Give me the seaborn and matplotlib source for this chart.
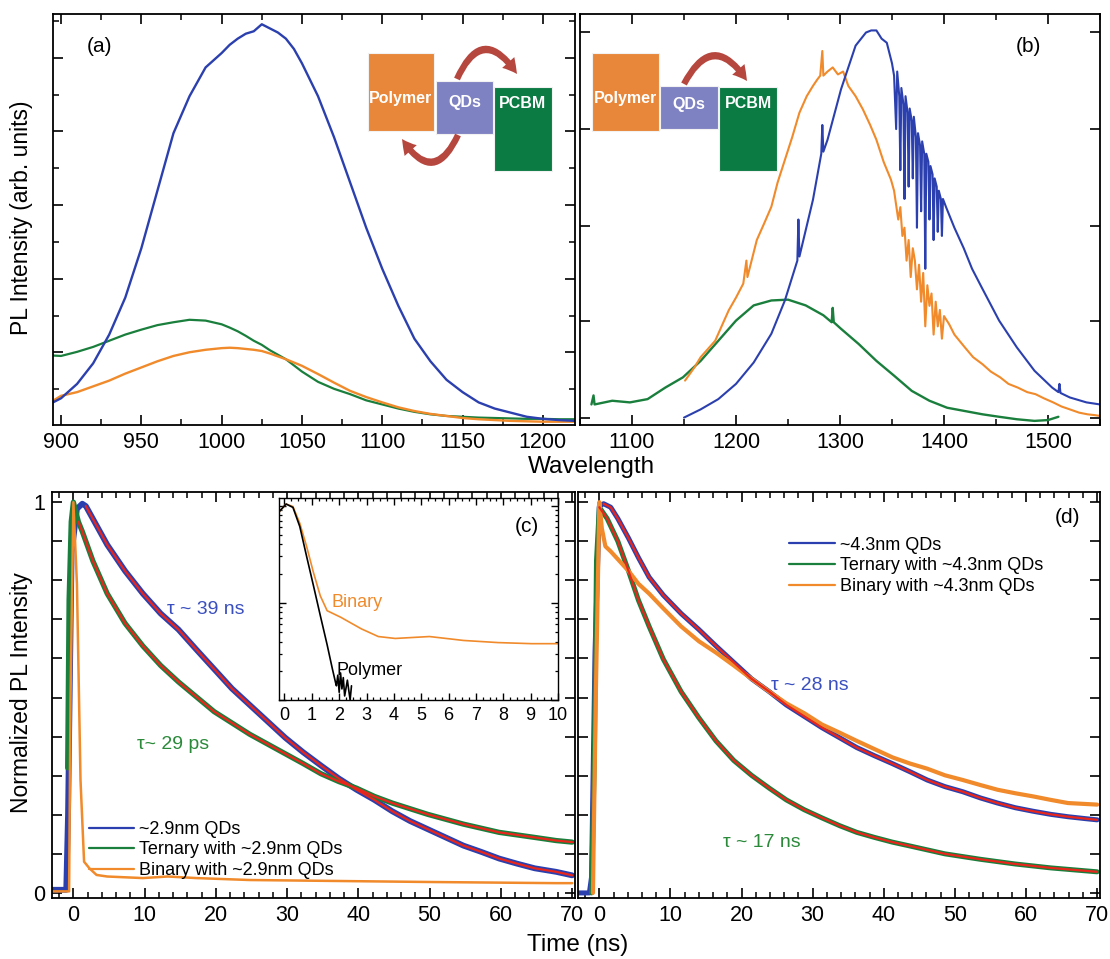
import matplotlib
matplotlib.use("Agg")
import matplotlib.pyplot as plt
import seaborn as sns
from matplotlib.patches import Rectangle, FancyArrowPatch
from matplotlib.lines import Line2D
from matplotlib.ticker import FixedLocator, MultipleLocator, NullFormatter, FixedFormatter, LogLocator

# ---------------- data ----------------
# Panel (a): PL spectra, ~2.9 nm QDs
a_nm = [895, 900, 910, 920, 930, 940, 950, 960, 970, 980, 990, 1000, 1005, 1010, 1015, 1020, 1025, 1030,
        1035, 1040, 1045, 1050, 1060, 1070, 1080, 1090, 1100, 1110, 1120, 1130, 1140, 1150, 1160, 1170,
        1180, 1190, 1200, 1210, 1220]
a_blue = [0.055, 0.065, 0.10, 0.15, 0.22, 0.31, 0.43, 0.57, 0.71, 0.80, 0.87, 0.905, 0.925, 0.94, 0.952, 0.958, 0.975, 0.965,
          0.955, 0.94, 0.915, 0.88, 0.80, 0.70, 0.59, 0.48, 0.38, 0.29, 0.21, 0.155, 0.11, 0.08, 0.055, 0.04,
          0.03, 0.02, 0.015, 0.012, 0.01]
a_green = [0.169, 0.168, 0.178, 0.19, 0.205, 0.22, 0.232, 0.243, 0.25, 0.256, 0.254, 0.245, 0.237, 0.228, 0.217, 0.205, 0.195, 0.182,
           0.171, 0.16, 0.145, 0.13, 0.105, 0.088, 0.075, 0.06, 0.05, 0.04, 0.032, 0.026, 0.022, 0.02, 0.018, 0.017,
           0.016, 0.015, 0.015, 0.014, 0.014]
a_orange = [0.059, 0.071, 0.08, 0.094, 0.108, 0.125, 0.14, 0.155, 0.168, 0.177, 0.183, 0.187, 0.188, 0.187, 0.185, 0.183, 0.18, 0.174,
            0.167, 0.16, 0.152, 0.144, 0.124, 0.103, 0.083, 0.068, 0.055, 0.043, 0.034, 0.027, 0.022, 0.017, 0.014, 0.012,
            0.01, 0.009, 0.008, 0.008, 0.008]

# Panel (b): PL spectra, ~4.3 nm QDs
b_blue_nm = [1150, 1166, 1183, 1200, 1217, 1234, 1247, 1259, 1260, 1261, 1274, 1282, 1283, 1284, 1288,
             1301, 1315, 1325, 1330, 1335, 1340, 1345, 1350, 1352, 1354, 1355, 1357, 1358, 1359, 1361,
             1362, 1363, 1365, 1366, 1367, 1369, 1370, 1371, 1373, 1374, 1375, 1377, 1378, 1379, 1381,
             1382, 1383, 1385, 1386, 1387, 1389, 1390, 1391, 1393, 1394, 1395, 1397, 1398, 1399, 1402,
             1410, 1419, 1427, 1436, 1453, 1470, 1487, 1504, 1510, 1511, 1512, 1521, 1537, 1550]
b_blue = [0.018, 0.038, 0.063, 0.10, 0.152, 0.222, 0.303, 0.40, 0.50, 0.41, 0.548, 0.66, 0.73, 0.665, 0.694,
          0.817, 0.923, 0.955, 0.96, 0.96, 0.94, 0.93, 0.88, 0.85, 0.72, 0.86, 0.80, 0.62, 0.82, 0.78,
          0.55, 0.80, 0.76, 0.58, 0.77, 0.74, 0.60, 0.75, 0.70, 0.48, 0.71, 0.68, 0.52, 0.69, 0.66,
          0.38, 0.66, 0.64, 0.50, 0.63, 0.61, 0.45, 0.60, 0.58, 0.47, 0.57, 0.55, 0.46, 0.55, 0.53,
          0.48, 0.43, 0.38, 0.336, 0.254, 0.189, 0.132, 0.091, 0.08, 0.10, 0.078, 0.067, 0.055, 0.05]
b_orange_nm = [1151, 1160, 1166, 1173, 1180, 1187, 1193, 1200, 1207, 1210, 1211, 1220, 1227, 1234, 1240,
               1247, 1254, 1261, 1268, 1274, 1278, 1281, 1283, 1284, 1288, 1293, 1298, 1303, 1308, 1315,
               1322, 1329, 1335, 1342, 1349, 1352, 1356, 1358, 1360, 1362, 1364, 1366, 1368, 1370, 1372,
               1374, 1376, 1378, 1380, 1382, 1384, 1386, 1388, 1390, 1392, 1394, 1396, 1398, 1400, 1405,
               1410, 1420, 1428, 1437, 1445, 1454, 1462, 1471, 1480, 1488, 1496, 1505, 1513, 1521, 1530,
               1538, 1545, 1550]
b_orange = [0.108, 0.14, 0.165, 0.185, 0.205, 0.245, 0.279, 0.31, 0.344, 0.40, 0.36, 0.45, 0.49, 0.531, 0.59,
            0.645, 0.70, 0.76, 0.80, 0.825, 0.84, 0.85, 0.91, 0.85, 0.86, 0.87, 0.853, 0.86, 0.825, 0.80,
            0.768, 0.73, 0.694, 0.64, 0.597, 0.57, 0.50, 0.53, 0.46, 0.48, 0.40, 0.45, 0.36, 0.43, 0.40,
            0.33, 0.39, 0.30, 0.37, 0.24, 0.34, 0.29, 0.32, 0.22, 0.30, 0.24, 0.28, 0.21, 0.265, 0.245,
            0.22, 0.189, 0.165, 0.148, 0.13, 0.116, 0.10, 0.091, 0.08, 0.075, 0.065, 0.055, 0.045, 0.038, 0.03,
            0.026, 0.024, 0.022]
b_green_nm = [1061, 1063, 1064, 1081, 1098, 1115, 1132, 1149, 1166, 1183, 1200, 1217, 1234, 1250, 1267,
              1284, 1292, 1293, 1294, 1301, 1318, 1335, 1352, 1369, 1386, 1403, 1420, 1437, 1453, 1470,
              1487, 1500, 1510]
b_green = [0.05, 0.072, 0.05, 0.059, 0.055, 0.063, 0.091, 0.116, 0.156, 0.205, 0.254, 0.291, 0.303, 0.305, 0.291,
           0.267, 0.25, 0.285, 0.25, 0.234, 0.197, 0.156, 0.12, 0.083, 0.059, 0.042, 0.034, 0.026, 0.02, 0.014,
           0.01, 0.012, 0.02]

# Panel (c): time-resolved PL, ~2.9 nm QDs
c_t_blue = [-3, -1.0, -0.75, -0.25, 0.5, 1.25, 1.75, 4.75, 7.25, 9.75, 12.25, 14.75, 17.25, 19.75, 22.25,
            24.75, 27.25, 29.75, 32.25, 34.75, 37.25, 39.75, 42.25, 44.75, 47.25, 49.75, 52.25, 54.75,
            57.25, 59.75, 62.25, 64.75, 67.75, 70]
c_blue = [0.008, 0.008, 0.2, 0.87, 0.983, 0.996, 0.99, 0.891, 0.824, 0.766, 0.715, 0.674, 0.623, 0.573, 0.523,
          0.481, 0.439, 0.397, 0.36, 0.326, 0.293, 0.264, 0.238, 0.209, 0.184, 0.163, 0.142, 0.121,
          0.105, 0.088, 0.075, 0.063, 0.054, 0.045]
c_t_green = [-0.8, -0.6, -0.3, 0.0, 0.7, 1.25, 2.75, 4.75, 7.25, 9.75, 12.25, 14.75, 17.25, 19.75, 22.25, 24.75,
             27.25, 29.75, 32.25, 34.75, 37.25, 39.75, 42.25, 44.75, 49.75, 54.75, 59.75, 64.75, 67.75, 70]
c_green = [0.32, 0.75, 0.95, 1.0, 0.95, 0.925, 0.849, 0.766, 0.69, 0.632, 0.582, 0.54, 0.502, 0.464, 0.435, 0.406,
           0.381, 0.356, 0.331, 0.305, 0.285, 0.268, 0.247, 0.23, 0.201, 0.176, 0.155, 0.142, 0.134, 0.13]
c_t_orange = [-3, -0.6, -0.4, 0.0, 0.5, 1.0, 1.5, 2.25, 3.25, 4.75, 9.75, 13.25, 17.25, 24.75, 34.75, 49.75, 67.75, 70]
c_orange = [0.004, 0.004, 0.5, 1.0, 0.79, 0.289, 0.08, 0.063, 0.046, 0.042, 0.038, 0.042, 0.038, 0.033, 0.031, 0.028, 0.025, 0.025]

# Inset of (c): log scale, first 10 ns
ins_t_binary = [-0.19, 0.06, 0.31, 0.56, 0.81, 1.06, 1.31, 1.56, 2.06, 2.81, 3.43, 4.05, 5.3, 6.55, 7.8, 9.04, 10.0]
ins_binary = [0.87, 1.04, 0.98, 0.66, 0.38, 0.205, 0.118, 0.083, 0.071, 0.054, 0.045, 0.043, 0.045, 0.041, 0.039, 0.038, 0.038]
ins_t_polymer = [-0.19, 0.06, 0.31, 0.56, 0.81, 1.06, 1.31, 1.56, 1.75, 1.87, 1.9, 1.95, 2.0, 2.05, 2.1, 2.15, 2.2, 2.3, 2.4, 2.45]
ins_polymer = [0.87, 1.04, 0.96, 0.61, 0.30, 0.15, 0.074, 0.037, 0.021, 0.015, 0.014, 0.018, 0.012, 0.019, 0.013, 0.017, 0.011, 0.016, 0.01, 0.014]

# Panel (d): time-resolved PL, ~4.3 nm QDs
d_t_blue = [-3, -1.4, -1.1, -0.6, 0.0, 0.6, 1.6, 2.6, 4.1, 5.5, 7.0, 9.0, 11.5, 14.0, 16.4, 18.9, 21.4, 23.9,
            26.3, 28.8, 31.3, 33.8, 36.2, 38.7, 41.2, 43.7, 46.1, 48.6, 51.1, 53.6, 56.0, 58.5, 61.0, 63.5,
            65.9, 68.4, 70]
d_blue = [0.0, 0.0, 0.04, 0.62, 0.99, 0.996, 0.987, 0.958, 0.908, 0.858, 0.808, 0.762, 0.715, 0.674, 0.632, 0.59,
          0.548, 0.515, 0.481, 0.452, 0.423, 0.397, 0.372, 0.351, 0.331, 0.31, 0.289, 0.272, 0.259, 0.243,
          0.23, 0.218, 0.209, 0.201, 0.195, 0.19, 0.187]
d_t_green = [-1.1, -0.7, -0.4, 0.0, 1.1, 2.6, 4.1, 5.5, 7.0, 9.0, 11.5, 14.0, 16.4, 18.9, 21.4, 23.9, 26.3, 28.8,
             31.3, 33.8, 36.2, 38.7, 41.2, 43.7, 48.6, 53.6, 58.5, 63.5, 70]
d_green = [0.0, 0.35, 0.85, 0.987, 0.958, 0.90, 0.824, 0.749, 0.682, 0.598, 0.515, 0.448, 0.389, 0.339, 0.301,
           0.268, 0.238, 0.213, 0.192, 0.172, 0.155, 0.142, 0.13, 0.12, 0.10, 0.086, 0.074, 0.064, 0.054]
d_t_orange = [-0.9, -0.5, 0.0, 0.35, 0.85, 1.6, 2.6, 4.1, 5.5, 7.0, 9.0, 11.5, 14.0, 16.4, 18.9, 21.4, 23.9, 26.3,
              28.8, 31.3, 33.8, 36.2, 38.7, 41.2, 43.7, 46.1, 48.6, 51.1, 53.6, 56.0, 58.5, 61.0, 63.5, 65.9, 70]
d_orange = [0.0, 0.5, 1.0, 0.933, 0.887, 0.874, 0.854, 0.824, 0.791, 0.766, 0.728, 0.682, 0.644, 0.615, 0.582,
            0.548, 0.515, 0.485, 0.46, 0.431, 0.41, 0.389, 0.368, 0.347, 0.331, 0.318, 0.301, 0.289, 0.276,
            0.264, 0.255, 0.247, 0.238, 0.23, 0.226]

legend_c = ["~2.9nm QDs", "Ternary with ~2.9nm QDs", "Binary with ~2.9nm QDs"]
legend_d = ["~4.3nm QDs", "Ternary with ~4.3nm QDs", "Binary with ~4.3nm QDs"]

# ---------------- style ----------------
BLUE = "#2B40AE"
GREEN = "#1A7F3C"
ORANGE = "#F08A2B"
RED = "#E8261C"
ARROW = "#B5473F"

sns.set_theme(style="ticks", rc={
    "axes.edgecolor": "black", "axes.linewidth": 1.3,
    "xtick.color": "black", "ytick.color": "black",
    "text.color": "black", "axes.labelcolor": "black",
    "xtick.direction": "in", "ytick.direction": "in",
    "xtick.top": True, "ytick.right": True,
    "xtick.major.size": 7, "ytick.major.size": 7,
    "xtick.minor.size": 4, "ytick.minor.size": 4,
    "xtick.major.width": 1.2, "ytick.major.width": 1.2,
    "xtick.minor.width": 1.1, "ytick.minor.width": 1.1,
})
plt.rcParams["font.family"] = ["Liberation Sans", "DejaVu Sans"]

W, H = 1110, 959
fig = plt.figure(figsize=(W / 100, H / 100), dpi=100)


def px_axes(l, t, r, b):
    return fig.add_axes([l / W, 1 - b / H, (r - l) / W, (b - t) / H])


def draw(ax, x, y, color, lw):
    sns.lineplot(x=x, y=y, ax=ax, color=color, linewidth=lw, sort=False,
                 estimator=None, legend=False)


ax_a = px_axes(53, 14, 575, 425)
ax_b = px_axes(580, 14, 1100, 425)
ax_c = px_axes(52, 492, 575, 898)
ax_d = px_axes(578, 492, 1100, 898)

# ---- (a) ----
draw(ax_a, a_nm, a_green, GREEN, 1.6)
draw(ax_a, a_nm, a_orange, ORANGE, 1.7)
draw(ax_a, a_nm, a_blue, BLUE, 1.7)
ax_a.set_xlim(895, 1220)
ax_a.set_ylim(0, 1)
ax_a.xaxis.set_major_locator(MultipleLocator(50))
ax_a.xaxis.set_minor_locator(MultipleLocator(25))
ax_a.yaxis.set_major_locator(FixedLocator([0.177, 0.356, 0.535, 0.715, 0.892]))
ax_a.yaxis.set_minor_locator(FixedLocator([0.087, 0.266, 0.446, 0.625, 0.803, 0.984]))
ax_a.yaxis.set_major_formatter(NullFormatter())
ax_a.text(0.09, 0.922, "(a)", transform=ax_a.transAxes, fontsize=15, ha="center", va="center")

# ---- (b) ----
draw(ax_b, b_green_nm, b_green, GREEN, 1.7)
draw(ax_b, b_orange_nm, b_orange, ORANGE, 1.5)
draw(ax_b, b_blue_nm, b_blue, BLUE, 1.5)
ax_b.set_xlim(1050, 1550)
ax_b.set_ylim(0, 1)
ax_b.xaxis.set_major_locator(MultipleLocator(100))
ax_b.xaxis.set_minor_locator(MultipleLocator(50))
ax_b.yaxis.set_major_locator(FixedLocator([0.018, 0.252, 0.485, 0.719, 0.955]))
ax_b.yaxis.set_major_formatter(NullFormatter())
ax_b.text(0.862, 0.922, "(b)", transform=ax_b.transAxes, fontsize=15, ha="center", va="center")

for ax in (ax_a, ax_b):
    ax.set_xlabel("")
    ax.set_ylabel("")
    ax.tick_params(axis="x", which="major", labelsize=15.5, pad=5)

# ---- (c) ----
draw(ax_c, c_t_blue, c_blue, BLUE, 4.2)
draw(ax_c, c_t_green, c_green, GREEN, 3.8)
draw(ax_c, c_t_blue[6:], c_blue[6:], RED, 1.6)
draw(ax_c, c_t_green[4:], c_green[4:], RED, 1.6)
draw(ax_c, c_t_orange, c_orange, ORANGE, 1.8)

# ---- (d) ----
draw(ax_d, d_t_blue, d_blue, BLUE, 3.6)
draw(ax_d, d_t_green, d_green, GREEN, 3.6)
draw(ax_d, d_t_orange, d_orange, ORANGE, 3.0)
draw(ax_d, d_t_blue[5:], d_blue[5:], RED, 1.6)
draw(ax_d, d_t_green[3:], d_green[3:], RED, 1.6)

yt = [i / 10 for i in range(11)]
ylab = ["0"] + [""] * 9 + ["1"]
for ax in (ax_c, ax_d):
    ax.set_xlim(-3, 70.4)
    ax.set_ylim(-0.013, 1.026)
    ax.xaxis.set_major_locator(MultipleLocator(10))
    ax.xaxis.set_minor_locator(MultipleLocator(2))
    ax.yaxis.set_major_locator(FixedLocator(yt))
    ax.set_xlabel("")
    ax.set_ylabel("")
    ax.tick_params(axis="both", which="major", labelsize=15.5, pad=5)
ax_c.yaxis.set_major_formatter(FixedFormatter(ylab))
ax_d.yaxis.set_major_formatter(NullFormatter())

handles = [Line2D([], [], color=BLUE, lw=1.6), Line2D([], [], color=GREEN, lw=1.6),
           Line2D([], [], color=ORANGE, lw=1.6)]
ax_c.legend(handles, legend_c, loc="upper left", bbox_to_anchor=(0.07, 0.19), frameon=False,
            fontsize=13, handlelength=2.5, handletextpad=0.3, labelspacing=0.2,
            borderaxespad=0, borderpad=0)
ax_d.legend(handles, legend_d, loc="upper left", bbox_to_anchor=(0.405, 0.89), frameon=False,
            fontsize=13, handlelength=2.5, handletextpad=0.3, labelspacing=0.2,
            borderaxespad=0, borderpad=0)

ax_c.text(18.6, 0.726, "τ ~ 39 ns", color="#3A4FBF", fontsize=14, ha="center", va="center")
ax_c.text(14.0, 0.381, "τ~ 29 ps", color="#2A8A3A", fontsize=14, ha="center", va="center")
ax_d.text(29.6, 0.532, "τ ~ 28 ns", color="#3A4FBF", fontsize=14, ha="center", va="center")
ax_d.text(22.8, 0.130, "τ ~ 17 ns", color="#2A8A3A", fontsize=14, ha="center", va="center")
ax_d.text(0.937, 0.938, "(d)", transform=ax_d.transAxes, fontsize=15, ha="center", va="center")

# ---- inset of (c) ----
ax_i = px_axes(279, 498, 558, 700)
draw(ax_i, ins_t_binary, ins_binary, ORANGE, 1.2)
draw(ax_i, ins_t_polymer, ins_polymer, "black", 1.2)
ax_i.set_yscale("log")
ax_i.set_xlim(-0.2, 10.0)
ax_i.set_ylim(0.01, 1.2)
ax_i.xaxis.set_major_locator(MultipleLocator(1))
ax_i.xaxis.set_minor_locator(MultipleLocator(0.25))
ax_i.yaxis.set_major_locator(LogLocator(base=10))
ax_i.yaxis.set_minor_locator(LogLocator(base=10, subs=range(2, 10)))
ax_i.yaxis.set_major_formatter(NullFormatter())
ax_i.yaxis.set_minor_formatter(NullFormatter())
ax_i.set_xlabel("")
ax_i.set_ylabel("")
ax_i.tick_params(axis="both", which="major", length=5, width=1.0, labelsize=13, pad=5)
ax_i.tick_params(axis="both", which="minor", length=2.5, width=0.9)
for s in ax_i.spines.values():
    s.set_linewidth(1.0)
ax_i.text(1.72, 0.10, "Binary", color=ORANGE, fontsize=13, ha="left", va="center")
ax_i.text(1.9, 0.02, "Polymer", color="black", fontsize=13, ha="left", va="center")
ax_i.text(0.89, 0.86, "(c)", transform=ax_i.transAxes, fontsize=15, ha="center", va="center")

# ---- shared labels ----
fig.text(591 / W, 1 - 467 / H, "Wavelength", fontsize=17.5, ha="center", va="center")
fig.text(578 / W, 1 - 945 / H, "Time (ns)", fontsize=17.5, ha="center", va="center")
fig.text(22 / W, 1 - 218 / H, "PL Intensity (arb. units)", fontsize=16.5, rotation=90,
         ha="center", va="center")
fig.text(22 / W, 1 - 693 / H, "Normalized PL Intensity", fontsize=16.5, rotation=90,
         ha="center", va="center")

# ---- energy-transfer schematics (decoration, pixel coordinates) ----
ov = fig.add_axes([0, 0, 1, 1], zorder=10)
ov.set_xlim(0, W)
ov.set_ylim(H, 0)
ov.axis("off")
ov.patch.set_alpha(0)


def box(x0, y0, w, h, fc, label, ty):
    ov.add_patch(Rectangle((x0, y0), w, h, facecolor=fc, edgecolor="#F2F2F2", lw=0.8))
    ov.text(x0 + w / 2, ty, label, color="white", fontsize=11.5, fontweight="bold",
            ha="center", va="center")


def arrow(p0, p1, rad):
    ov.add_patch(FancyArrowPatch(p0, p1, connectionstyle=f"arc3,rad={rad}",
                                 arrowstyle="simple,head_length=0.8,head_width=0.9,tail_width=0.35",
                                 mutation_scale=13, color=ARROW, shrinkA=0, shrinkB=0, lw=0))


box(368, 53, 66, 78, "#E8873A", "Polymer", 98)
box(436, 81, 57, 53, "#7F82C2", "QDs", 103)
box(494, 87, 58, 84, "#0B7A43", "PCBM", 103)
arrow((457, 79), (517, 74), -0.9)
arrow((458, 135), (402, 139), -0.9)

box(592, 53, 67, 78, "#E8873A", "Polymer", 98)
box(660, 86, 58, 43, "#7F82C2", "QDs", 104)
box(719, 87, 58, 84, "#0B7A43", "PCBM", 103)
arrow((684, 84), (747, 81), -0.85)

fig.savefig("out.png", dpi=100)
